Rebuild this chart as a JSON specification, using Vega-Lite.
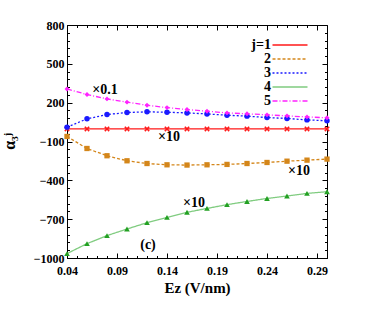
{
  "$schema": "https://vega.github.io/schema/vega-lite/v6.json",
  "width": 260,
  "height": 233,
  "autosize": "none",
  "padding": {"left": 67, "top": 25, "right": 44, "bottom": 53},
  "background": "white",
  "config": {
    "font": "Liberation Serif",
    "view": {"stroke": "black", "strokeWidth": 1},
    "axis": {"labelFont": "Liberation Serif", "labelFontWeight": "bold", "labelFontSize": 12, "labelColor": "black", "titleFont": "Liberation Serif", "titleFontWeight": "bold", "titleColor": "black", "grid": false, "domainColor": "black", "tickColor": "black", "tickWidth": 1},
    "legend": {"labelFont": "Liberation Serif", "labelFontWeight": "bold", "labelFontSize": 14, "labelColor": "black"}
  },
  "datasets": {
    "curves": [
      {"E": 0.04, "s": "j=1", "v": -3}, {"E": 0.06, "s": "j=1", "v": -3}, {"E": 0.08, "s": "j=1", "v": -3}, {"E": 0.10, "s": "j=1", "v": -3}, {"E": 0.12, "s": "j=1", "v": -3}, {"E": 0.14, "s": "j=1", "v": -3}, {"E": 0.16, "s": "j=1", "v": -3}, {"E": 0.18, "s": "j=1", "v": -3}, {"E": 0.20, "s": "j=1", "v": -3}, {"E": 0.22, "s": "j=1", "v": -3}, {"E": 0.24, "s": "j=1", "v": -3}, {"E": 0.26, "s": "j=1", "v": -3}, {"E": 0.28, "s": "j=1", "v": -3}, {"E": 0.30, "s": "j=1", "v": -3},
      {"E": 0.04, "s": "2", "v": -61}, {"E": 0.06, "s": "2", "v": -154}, {"E": 0.08, "s": "2", "v": -210}, {"E": 0.10, "s": "2", "v": -249}, {"E": 0.12, "s": "2", "v": -270}, {"E": 0.14, "s": "2", "v": -280}, {"E": 0.16, "s": "2", "v": -282}, {"E": 0.18, "s": "2", "v": -280}, {"E": 0.20, "s": "2", "v": -277}, {"E": 0.22, "s": "2", "v": -270}, {"E": 0.24, "s": "2", "v": -262}, {"E": 0.26, "s": "2", "v": -252}, {"E": 0.28, "s": "2", "v": -244}, {"E": 0.30, "s": "2", "v": -236},
      {"E": 0.04, "s": "3", "v": 11}, {"E": 0.06, "s": "3", "v": 75}, {"E": 0.08, "s": "3", "v": 108}, {"E": 0.10, "s": "3", "v": 124}, {"E": 0.12, "s": "3", "v": 129}, {"E": 0.14, "s": "3", "v": 126}, {"E": 0.16, "s": "3", "v": 121}, {"E": 0.18, "s": "3", "v": 113}, {"E": 0.20, "s": "3", "v": 103}, {"E": 0.22, "s": "3", "v": 96}, {"E": 0.24, "s": "3", "v": 85}, {"E": 0.26, "s": "3", "v": 78}, {"E": 0.28, "s": "3", "v": 67}, {"E": 0.30, "s": "3", "v": 60},
      {"E": 0.04, "s": "4", "v": -966}, {"E": 0.06, "s": "4", "v": -889}, {"E": 0.08, "s": "4", "v": -827}, {"E": 0.10, "s": "4", "v": -776}, {"E": 0.12, "s": "4", "v": -727}, {"E": 0.14, "s": "4", "v": -686}, {"E": 0.16, "s": "4", "v": -647}, {"E": 0.18, "s": "4", "v": -617}, {"E": 0.20, "s": "4", "v": -588}, {"E": 0.22, "s": "4", "v": -563}, {"E": 0.24, "s": "4", "v": -540}, {"E": 0.26, "s": "4", "v": -521}, {"E": 0.28, "s": "4", "v": -501}, {"E": 0.30, "s": "4", "v": -488},
      {"E": 0.04, "s": "5", "v": 306}, {"E": 0.06, "s": "5", "v": 263}, {"E": 0.08, "s": "5", "v": 229}, {"E": 0.10, "s": "5", "v": 204}, {"E": 0.12, "s": "5", "v": 180}, {"E": 0.14, "s": "5", "v": 162}, {"E": 0.16, "s": "5", "v": 147}, {"E": 0.18, "s": "5", "v": 134}, {"E": 0.20, "s": "5", "v": 121}, {"E": 0.22, "s": "5", "v": 114}, {"E": 0.24, "s": "5", "v": 106}, {"E": 0.26, "s": "5", "v": 98}, {"E": 0.28, "s": "5", "v": 90}, {"E": 0.30, "s": "5", "v": 83}
    ],
    "notes": [
      {"E": 0.078, "v": 294, "t": "×0.1"},
      {"E": 0.142, "v": -69, "t": "×10"},
      {"E": 0.272, "v": -326, "t": "×10"},
      {"E": 0.167, "v": -575, "t": "×10"},
      {"E": 0.121, "v": -897, "t": "(c)"}
    ]
  },
  "resolve": {"axis": {"x": "independent", "y": "independent"}},
  "layer": [
    {
      "data": {"name": "curves"},
      "mark": {"type": "line", "strokeWidth": 1.3},
      "encoding": {
        "x": {"field": "E", "type": "quantitative", "scale": {"domain": [0.04, 0.30], "nice": false, "zero": false},
              "axis": {"title": "Ez (V/nm)", "titleFontSize": 15, "values": [0.04,0.05,0.06,0.07,0.08,0.09,0.10,0.11,0.12,0.13,0.14,0.15,0.16,0.17,0.18,0.19,0.20,0.21,0.22,0.23,0.24,0.25,0.26,0.27,0.28,0.29,0.30],
                       "labelExpr": "round(datum.value*100) % 5 == 4 ? format(datum.value, '.2f') : ''",
                       "tickSize": {"condition": {"test": "round(datum.value*100) % 5 == 4", "value": -5}, "value": -2.5},
                       "labelPadding": 12, "titlePadding": 2, "labelFlush": false, "labelOverlap": false}},
        "y": {"field": "v", "type": "quantitative", "scale": {"domain": [-1000, 800], "nice": false, "zero": false},
              "axis": {"title": "α₃ʲ", "titleFontSize": 16, "titleX": -50, "titleY": 116, "titleAlign": "center", "titleAngle": -90, "values": [-1000,-940,-880,-820,-760,-700,-640,-580,-520,-460,-400,-340,-280,-220,-160,-100,-40,20,80,140,200,260,320,380,440,500,560,620,680,740,800],
                       "labelExpr": "(datum.value + 1000) % 300 == 0 ? format(datum.value, 'd') : ''",
                       "tickSize": {"condition": {"test": "(datum.value + 1000) % 300 == 0", "value": -5}, "value": -2.5},
                       "labelPadding": 8, "labelOverlap": false}},
        "color": {"field": "s", "type": "nominal", "sort": ["j=1", "2", "3", "4", "5"],
                  "scale": {"domain": ["j=1", "2", "3", "4", "5"], "range": ["#ff1a1a", "#d4861a", "#1a1aff", "#80cc80", "#ff22ff"]},
                  "legend": {"title": null, "orient": "none", "legendX": 216, "legendY": 13, "padding": 0, "symbolType": "M-5,0L5,0", "symbolSize": 49, "symbolStrokeWidth": 1.6, "labelAlign": "right", "labelOffset": -26, "rowPadding": -1, "labelLimit": 60,
                             "encode": {"symbols": {"update": {"strokeDash": {"scale": "strokeDash", "field": "value"}}}}}},
        "strokeDash": {"field": "s", "type": "nominal", "sort": ["j=1", "2", "3", "4", "5"],
                  "scale": {"domain": ["j=1", "2", "3", "4", "5"], "range": [[1, 0], [3, 2], [2, 2], [1, 0], [5, 2, 1, 2]]},
                  "legend": null}
      }
    },
    {
      "data": {"name": "curves"},
      "transform": [{"filter": {"field": "s", "equal": "j=1"}}],
      "mark": {"type": "point", "filled": true, "size": 30, "opacity": 1, "strokeWidth": 0, "color": "#ff1a1a", "shape": "M-1,-0.6L-0.6,-1L0,-0.4L0.6,-1L1,-0.6L0.4,0L1,0.6L0.6,1L0,0.4L-0.6,1L-1,0.6L-0.4,0Z"},
      "encoding": {
        "x": {"field": "E", "type": "quantitative", "scale": {"domain": [0.04, 0.30], "nice": false, "zero": false},
              "axis": {"orient": "top", "title": null, "labels": false, "domain": false, "values": [0.04,0.05,0.06,0.07,0.08,0.09,0.10,0.11,0.12,0.13,0.14,0.15,0.16,0.17,0.18,0.19,0.20,0.21,0.22,0.23,0.24,0.25,0.26,0.27,0.28,0.29,0.30],
                       "tickSize": {"condition": {"test": "round(datum.value*100) % 5 == 4", "value": -5}, "value": -2.5}}},
        "y": {"field": "v", "type": "quantitative", "scale": {"domain": [-1000, 800], "nice": false, "zero": false},
              "axis": {"orient": "right", "title": null, "labels": false, "domain": false, "values": [-1000,-940,-880,-820,-760,-700,-640,-580,-520,-460,-400,-340,-280,-220,-160,-100,-40,20,80,140,200,260,320,380,440,500,560,620,680,740,800],
                       "tickSize": {"condition": {"test": "(datum.value + 1000) % 300 == 0", "value": -5}, "value": -2.5}}}
      }
    },
    {
      "data": {"name": "curves"},
      "transform": [{"filter": {"field": "s", "equal": "2"}}],
      "mark": {"type": "point", "filled": true, "size": 28, "opacity": 1, "strokeWidth": 0, "color": "#d4861a", "shape": "square"},
      "encoding": {
        "x": {"field": "E", "type": "quantitative", "axis": null},
        "y": {"field": "v", "type": "quantitative", "axis": null}
      }
    },
    {
      "data": {"name": "curves"},
      "transform": [{"filter": {"field": "s", "equal": "3"}}],
      "mark": {"type": "point", "filled": true, "size": 30, "opacity": 1, "strokeWidth": 0, "color": "#1a1aff", "shape": "circle"},
      "encoding": {
        "x": {"field": "E", "type": "quantitative", "axis": null},
        "y": {"field": "v", "type": "quantitative", "axis": null}
      }
    },
    {
      "data": {"name": "curves"},
      "transform": [{"filter": {"field": "s", "equal": "4"}}],
      "mark": {"type": "point", "filled": true, "size": 32, "opacity": 1, "strokeWidth": 0, "color": "#22a022", "shape": "triangle-up"},
      "encoding": {
        "x": {"field": "E", "type": "quantitative", "axis": null},
        "y": {"field": "v", "type": "quantitative", "axis": null}
      }
    },
    {
      "data": {"name": "curves"},
      "transform": [{"filter": {"field": "s", "equal": "5"}}],
      "mark": {"type": "point", "filled": true, "size": 24, "opacity": 1, "strokeWidth": 0, "color": "#ff22ff", "shape": "diamond"},
      "encoding": {
        "x": {"field": "E", "type": "quantitative", "axis": null},
        "y": {"field": "v", "type": "quantitative", "axis": null}
      }
    },
    {
      "data": {"name": "notes"},
      "mark": {"type": "text", "font": "Liberation Serif", "fontWeight": "bold", "fontSize": 14, "color": "black"},
      "encoding": {
        "x": {"field": "E", "type": "quantitative", "axis": null},
        "y": {"field": "v", "type": "quantitative", "axis": null},
        "text": {"field": "t"}
      }
    }
  ]
}
